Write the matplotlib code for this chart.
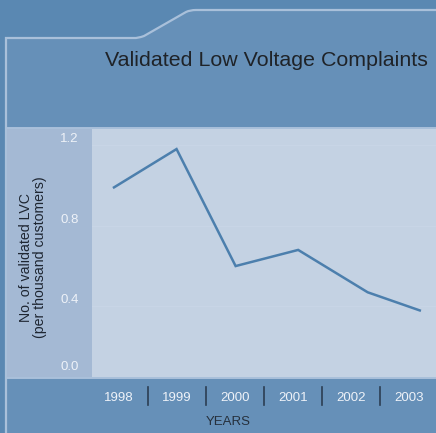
import matplotlib
matplotlib.use("Agg")
import matplotlib.pyplot as plt
import matplotlib.transforms as mtransforms
from matplotlib.path import Path
from matplotlib.patches import PathPatch, Rectangle
from matplotlib.lines import Line2D

# data
years = [1998, 1999, 2000, 2001, 2002, 2003]
sample_x = [1997.91, 1998.99, 2000.01, 2001.09, 2002.29, 2003.19]
lvc = [0.99, 1.18, 0.60, 0.68, 0.47, 0.38]
y_ticks = [0.0, 0.4, 0.8, 1.2]
y_tick_labels = ["0.0", "0.4", "0.8", "1.2"]

W, H = 436, 433
plt.rcParams['font.family'] = ['Liberation Sans', 'DejaVu Sans']

def fx(x):
    return x / W

def fy(y):
    return 1 - y / H

outer_bg = "#5a88b2"
panel_bg = "#6690b8"
border = "#a9c0da"
strip_bg = "#a4b9d4"
plot_bg = "#c4d2e3"
line_col = "#4c7fad"

fig = plt.figure(figsize=(W / 100, H / 100), dpi=100)
fig.patch.set_facecolor(outer_bg)

# panel with the stepped top edge
verts = [(fx(6), fy(440)), (fx(6), fy(38)), (fx(136), fy(38)),
         (fx(142), fy(37)), (fx(144), fy(36)),
         (fx(186), fy(12)), (fx(190), fy(10)), (fx(196), fy(10)),
         (fx(440), fy(10)), (fx(440), fy(440)), (fx(6), fy(440))]
codes = [Path.MOVETO, Path.LINETO, Path.LINETO, Path.CURVE3, Path.CURVE3,
         Path.LINETO, Path.CURVE3, Path.CURVE3, Path.LINETO, Path.LINETO, Path.CLOSEPOLY]
fig.patches.append(PathPatch(Path(verts, codes), facecolor=panel_bg, edgecolor=border,
                             lw=1.6, transform=fig.transFigure, figure=fig, zorder=-10))

# middle band and y strip
fig.patches.append(Rectangle((fx(6), fy(378)), fx(440) - fx(6), (378 - 128) / H,
                             facecolor=plot_bg, edgecolor=border, lw=1.4,
                             transform=fig.transFigure, figure=fig, zorder=-9))
fig.patches.append(Rectangle((fx(7), fy(377)), fx(92) - fx(7), (377 - 129) / H,
                             facecolor=strip_bg, edgecolor="none",
                             transform=fig.transFigure, figure=fig, zorder=-8))

ax = fig.add_axes([fx(92), fy(377), fx(436) - fx(92), (377 - 129.5) / H])
ax.set_facecolor(plot_bg)
ax.set_xlim(1997.53, 2003.47)
ax.set_ylim(0.05, 1.277)
for s in ax.spines.values():
    s.set_visible(False)
ax.set_xticks([])
ax.set_yticks([])
for v in y_ticks[1:]:
    ax.axhline(v, color="#c8d5e6", lw=0.8, zorder=1)

ax.plot(sample_x, lvc, color=line_col, lw=1.8, zorder=3, solid_joinstyle='miter')

# y tick labels inside the strip
off = mtransforms.ScaledTranslation(0, 0.06, fig.dpi_scale_trans)
ytr = mtransforms.blended_transform_factory(fig.transFigure, ax.transData) + off
for v, lab in zip(y_ticks, y_tick_labels):
    ax.text(fx(78.5), max(v, 0.07), lab, transform=ytr, ha="right", va="center",
            color="#eef2f8", fontsize=9.5, clip_on=False)

# x tick labels with separators below the band
xtr = mtransforms.blended_transform_factory(ax.transData, fig.transFigure)
for yr in years:
    ax.text(yr, fy(398), str(yr), transform=xtr, ha="center", va="center",
            color="#eef2f8", fontsize=9.5, clip_on=False)
for yr in years[:-1]:
    fig.lines.append(Line2D([yr + 0.5, yr + 0.5], [fy(387), fy(405)], transform=xtr,
                            color="#2c3e52", lw=1.2, figure=fig))

fig.text(fx(228), fy(422), "YEARS", ha="center", va="center", color="#26303c", fontsize=9.5)
fig.text(fx(33), fy(257), "No. of validated LVC\n(per thousand customers)", rotation=90,
         ha="center", va="center", color="#1e2632", fontsize=10.2, linespacing=0.92,
         multialignment="center")
fig.text(fx(266.5), fy(61), "Validated Low Voltage Complaints", ha="center", va="center",
         color="#1f2328", fontsize=15.4)

fig.savefig("out.png", dpi=100, facecolor=fig.get_facecolor())
